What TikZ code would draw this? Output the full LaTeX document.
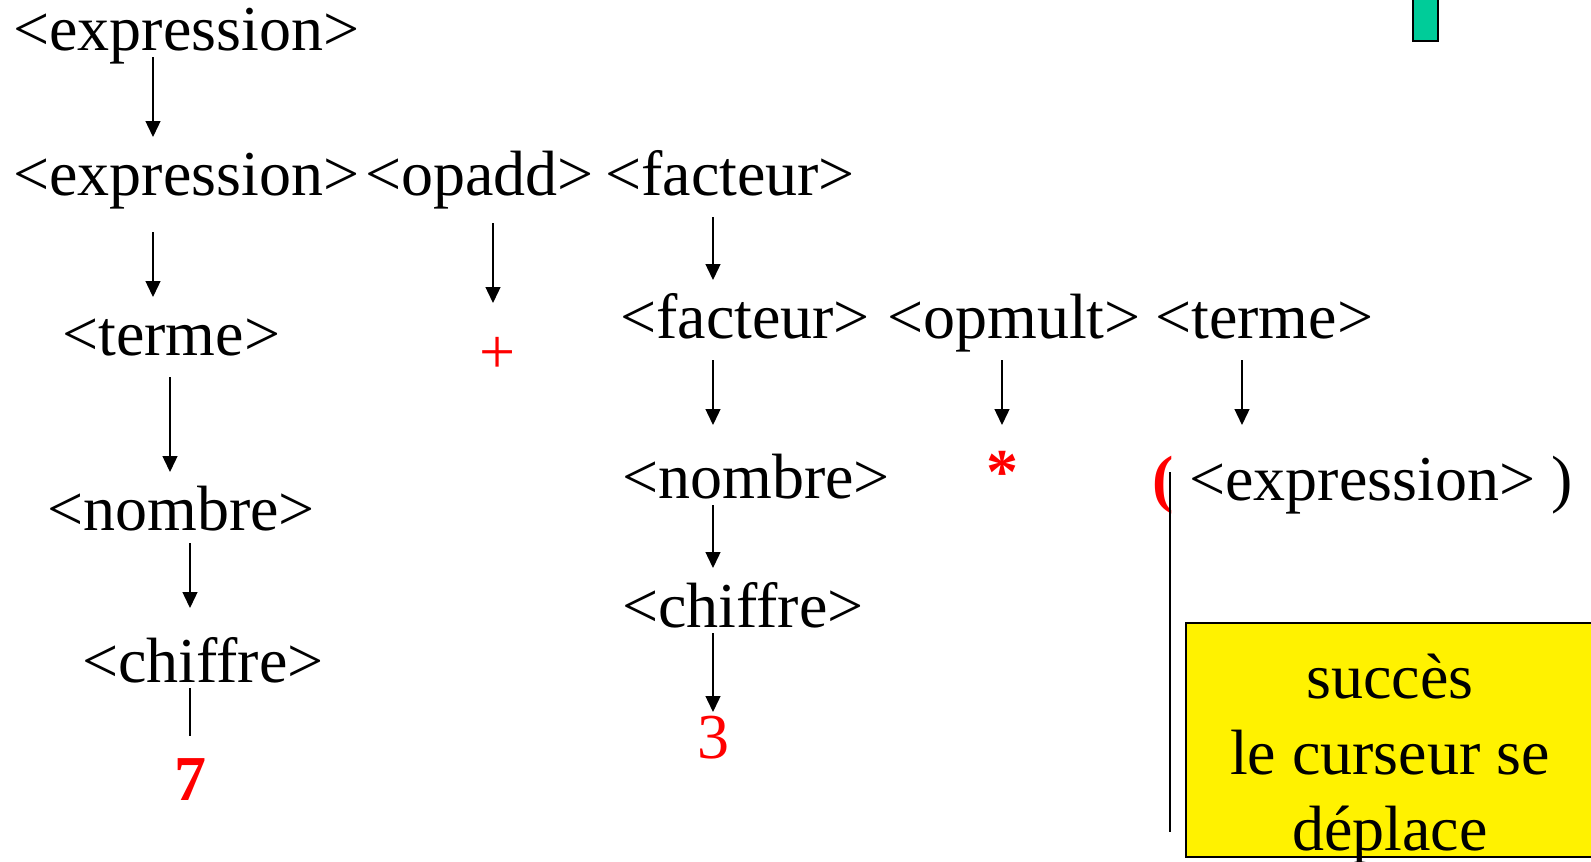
\documentclass[tikz,border=0pt]{standalone}
\usepackage{fontspec}
\setmainfont{Liberation Serif}
\usetikzlibrary{arrows.meta}
\definecolor{marker}{RGB}{0,204,153}
\newcommand{\derivfont}{\fontsize{64}{76}\selectfont}

\begin{document}
\begin{tikzpicture}[x=1pt, y=-1pt,
    sym/.style={anchor=base west, inner sep=0pt, font=\derivfont},
    term/.style={anchor=base, inner sep=0pt, text=red, font=\derivfont},
    arr/.style={line width=1.4pt, -{Triangle[width=15pt,length=16pt]}},
    link/.style={line width=1.4pt},
    notebox/.style={draw=black, fill=yellow, line width=1.5pt},
    msg/.style={anchor=base, inner sep=0pt, align=center, font=\derivfont}
]
    \useasboundingbox (0,0) rectangle (1591,862);
    \clip (0,0) rectangle (1591,862);
    % non-terminals, placed at their baselines
    \foreach \name/\x/\y/\txt in {e0/13/50/expression, e1/13/195/expression, opadd/365/195/opadd, fac1/605/195/facteur,
        t0/62/355/terme, fac2/620/338/facteur, opmult/887/338/opmult, t1/1155/338/terme,
        nb0/47/530/nombre, nb1/622/498/nombre, ch0/82/682/chiffre, ch1/622/627/chiffre} {
        \node[sym] (\name) at (\x,\y) {<\txt>};
    }
    % terminals in red
    \node[term] (plus) at (498,373) {+};
    \node[term, font=\derivfont\bfseries] (star) at (1002,493) {*};
    \node[term, font=\derivfont\bfseries] (seven) at (190,800) {7};
    \node[term] (three) at (713,758) {3};
    \node[term, anchor=base west, font=\derivfont\bfseries] (lpar) at (1152,500) {(};
    \node[sym] (e2) at (1189,500) {<expression> )};
    % derivation arrows
    \foreach \a/\ax/\ay/\b/\bx/\by in {e0/140/-7/e1.base west/140/58, e1/140/-37/t0.base west/91/58,
        opadd/128/-28/plus.base/-5/70, fac1/108/-22/fac2.base west/93/58, t0/108/-22/nb0.base west/123/58,
        fac2/93/-22/nb1.base west/91/73, opmult/115/-22/star.base/0/68, t1/87/-22/e2.base west/53/75,
        nb0/143/-13/ch0.base west/108/74, nb1/91/-7/ch1.base west/91/59, ch1/91/-6/three.base/0/46} {
        \draw[arr] ([xshift=\ax pt, yshift=\ay pt]\a.base west) -- ([xshift=\bx pt, yshift=\by pt]\b);
    }
    \draw[link] ([xshift=108pt, yshift=-6pt]ch0.base west) -- ([yshift=64pt]seven.base);
    % cursor
    \draw[line width=1.2pt] ([xshift=18pt, yshift=28pt]lpar.base west) -- ++(0,360);
    % message box
    \draw[notebox] (1186,623) rectangle (1620,857);
    \node[msg] (note) at (1390,850) {succès\\le curseur se\\déplace};
    \draw[fill=marker, line width=2.5pt] (1413,-10) rectangle (1438,41);
\end{tikzpicture}
\end{document}
